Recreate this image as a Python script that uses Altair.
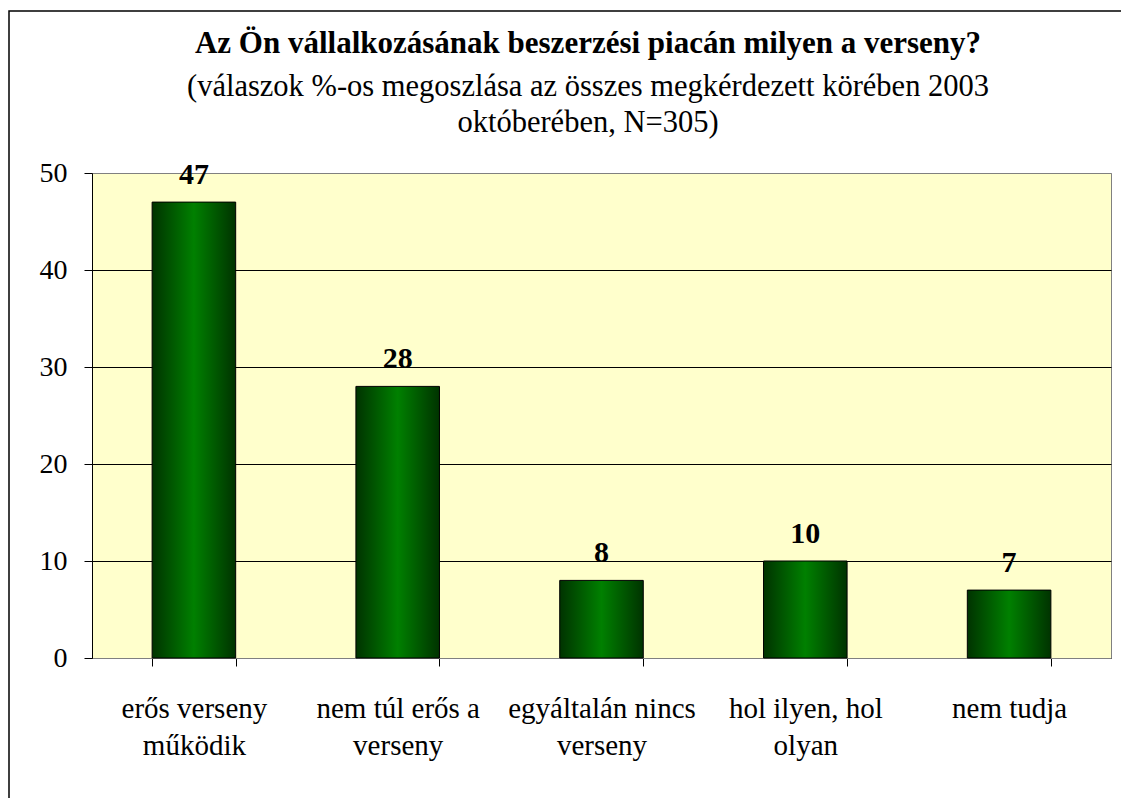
import altair as alt
import pandas as pd

categories = ["erős verseny\nműködik", "nem túl erős a\nverseny", "egyáltalán nincs\nverseny",
              "hol ilyen, hol\nolyan", "nem tudja"]
values = [47, 28, 8, 10, 7]
y_ticks = [0, 10, 20, 30, 40, 50]
title_text = "Az Ön vállalkozásának beszerzési piacán milyen a verseny?"
subtitle_lines = ["(válaszok %-os megoszlása az összes megkérdezett körében 2003",
                  "októberében, N=305)"]

df = pd.DataFrame({"cat": categories, "val": values})

W, H = 1019, 485
FONT = "Liberation Serif"

gradient = alt.Gradient(
    gradient="linear", x1=0, x2=1, y1=0, y2=0,
    stops=[alt.GradientStop(color="#003300", offset=0),
           alt.GradientStop(color="#008000", offset=0.5),
           alt.GradientStop(color="#003300", offset=1)])

x = alt.X("cat:N", sort=categories, title=None,
          scale=alt.Scale(paddingInner=0.59, paddingOuter=0.295),
          axis=alt.Axis(labelAngle=0, labelExpr="split(datum.label, '\\n')",
                        tickBand="extent", tickSize=8, labelPadding=28, labelLimit=400,
                        labelFont=FONT, labelFontSize=29, labelColor="black",
                        labelLineHeight=37, domainColor="#808080", tickColor="black",
                        grid=False, labelBaseline="top"))
y = alt.Y("val:Q", scale=alt.Scale(domain=[0, 50]),
          axis=alt.Axis(values=y_ticks, title=None, tickSize=8, labelPadding=17,
                        labelFont=FONT, labelFontSize=28, labelColor="black",
                        domainColor="black", tickColor="black",
                        gridColor=alt.condition("datum.value == 50", alt.value("#808080"), alt.value("black")),
                        gridWidth=1))

base = alt.Chart(df)
bars = base.mark_bar(color=gradient, stroke="black", strokeWidth=1).encode(x=x, y=y)
labels = base.mark_text(font=FONT, fontSize=30, fontWeight="bold", baseline="alphabetic",
                        dy=-18, color="black").encode(x=x, y=y, text="val:Q")

one = pd.DataFrame({"a": [0]})
frame = alt.Chart(one).mark_rect(
    fillOpacity=0, stroke="black", strokeWidth=1.5).encode(
    x=alt.value(-83), x2=alt.value(1200), y=alt.value(-162), y2=alt.value(900))

title_df = pd.DataFrame({"t": [title_text, subtitle_lines[0], subtitle_lines[1]]})
title_bold = alt.Chart(title_df.iloc[[0]]).mark_text(
    font=FONT, fontSize=31, fontWeight="bold", color="black", baseline="alphabetic", align="center"
).encode(text="t:N", x=alt.value(496), y=alt.value(-120))
sub1 = alt.Chart(title_df.iloc[[1]]).mark_text(
    font=FONT, fontSize=30.5, color="black", baseline="alphabetic", align="center"
).encode(text="t:N", x=alt.value(496), y=alt.value(-77))
sub2 = alt.Chart(title_df.iloc[[2]]).mark_text(
    font=FONT, fontSize=30.5, color="black", baseline="alphabetic", align="center"
).encode(text="t:N", x=alt.value(496), y=alt.value(-41))

chart = alt.layer(bars, labels, frame, title_bold, sub1, sub2).properties(
    width=W, height=H,
    autosize=alt.AutoSizeParams(type="none"),
    padding={"left": 84, "top": 165, "right": 10, "bottom": 140},
).configure_view(fill="#FFFFCC", stroke="#808080").configure_axis(
    labelFont=FONT).configure_text(font=FONT)

chart.save("out.html", embed_options={"renderer": "svg", "actions": False})
